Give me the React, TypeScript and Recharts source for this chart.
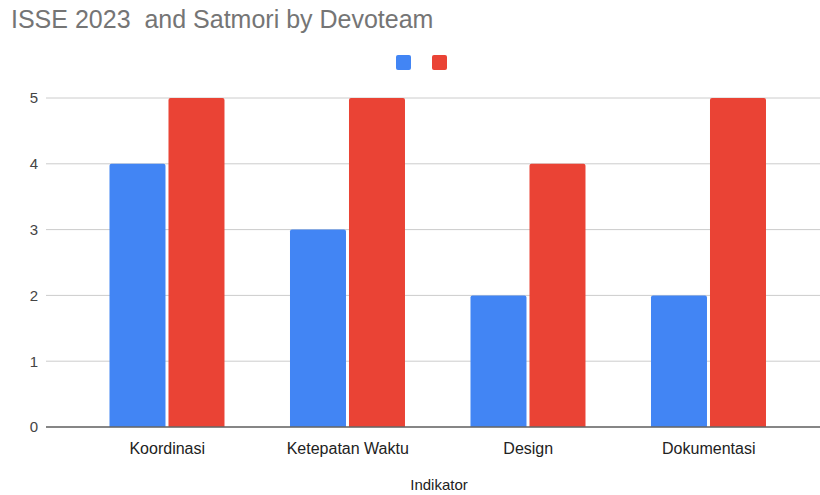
import React from 'react';
import { BarChart, Bar, XAxis, YAxis, CartesianGrid } from 'recharts';

// categories and the two (unnamed) series
const indikator = ['Koordinasi', 'Ketepatan Waktu', 'Design', 'Dokumentasi'];
const seriesBlue = [4, 3, 2, 2];
const seriesRed = [5, 5, 4, 5];
const yTicks = [0, 1, 2, 3, 4, 5];

const COLORS = ['#4285F4', '#EA4335'];
const FONT = '"Liberation Sans", Arial, sans-serif';

const App: React.FC = () => {
  const data = indikator.map((name, i) => ({ name, blue: seriesBlue[i], red: seriesRed[i] }));

  return (
    <div style={{ position: 'absolute', left: 0, top: 0, width: 820, height: 495, background: '#fff', fontFamily: FONT }}>
      {/* title */}
      <div style={{ position: 'absolute', left: 11, top: 5, fontSize: 25, color: '#757575', whiteSpace: 'pre' }}>
        {'ISSE 2023  and Satmori by Devoteam'}
      </div>
      {/* legend: colour swatches only, series have no names */}
      <div style={{ position: 'absolute', left: 396, top: 55, display: 'flex', gap: 21 }}>
        {COLORS.map(c => (
          <div key={c} style={{ width: 15, height: 15, borderRadius: 2, background: c }} />
        ))}
      </div>
      <BarChart
        width={820}
        height={495}
        data={data}
        margin={{ top: 98, right: 0, bottom: 8, left: 0 }}
        barGap={3}
        barCategoryGap="18%"
      >
        <CartesianGrid vertical={false} stroke="#cccccc" />
        <XAxis
          dataKey="name"
          height={60}
          padding={{ left: 31, right: 21 }}
          tickLine={false}
          axisLine={{ stroke: '#666666', strokeWidth: 1.5 }}
          tick={{ fill: '#222222', fontSize: 16, fontFamily: FONT }}
          tickMargin={10}
          label={{ value: 'Indikator', position: 'insideBottom', offset: -3, dx: 6, fill: '#222222', fontSize: 15, fontFamily: FONT }}
        />
        <YAxis
          width={46}
          domain={[0, 5]}
          ticks={yTicks}
          tickLine={false}
          axisLine={false}
          tick={{ fill: '#444444', fontSize: 15, fontFamily: FONT }}
        />
        <Bar dataKey="blue" name="" fill={COLORS[0]} radius={[2, 2, 0, 0]} isAnimationActive={false} />
        <Bar dataKey="red" name="" fill={COLORS[1]} radius={[2, 2, 0, 0]} isAnimationActive={false} />
      </BarChart>
    </div>
  );
};

export default App;
